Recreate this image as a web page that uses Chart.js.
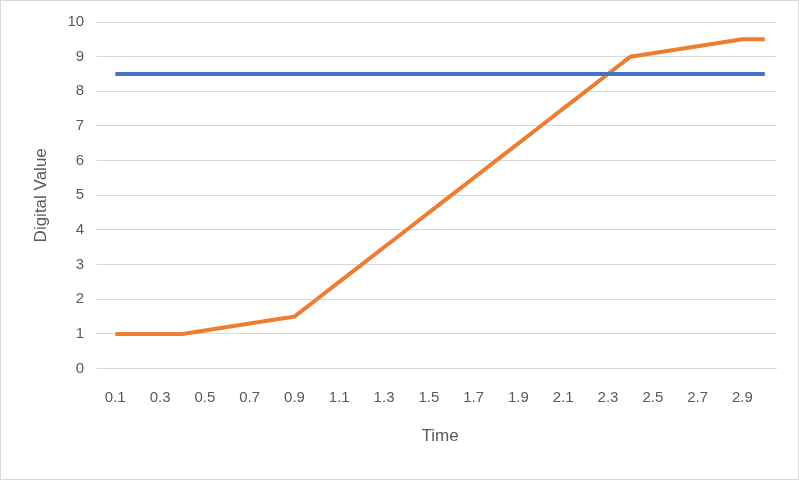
<!DOCTYPE html>
<html><head><meta charset="utf-8">
<script src="https://cdn.jsdelivr.net/npm/chart.js@4/dist/chart.umd.min.js"></script>
<style>html,body{margin:0;padding:0;background:#fff}#w{width:797px;height:478px;border:1px solid #d9d9d9}</style>
</head><body><div id="w"><canvas id="c"></canvas></div>
<script>
const categories = ["0.1","0.2","0.3","0.4","0.5","0.6","0.7","0.8","0.9","1","1.1","1.2","1.3","1.4","1.5","1.6","1.7","1.8","1.9","2","2.1","2.2","2.3","2.4","2.5","2.6","2.7","2.8","2.9","3"];
const threshold = [8.5,8.5,8.5,8.5,8.5,8.5,8.5,8.5,8.5,8.5,8.5,8.5,8.5,8.5,8.5,8.5,8.5,8.5,8.5,8.5,8.5,8.5,8.5,8.5,8.5,8.5,8.5,8.5,8.5,8.5];
const signal = [1,1,1,1,1.1,1.2,1.3,1.4,1.5,2,2.5,3,3.5,4,4.5,5,5.5,6,6.5,7,7.5,8,8.5,9,9.1,9.2,9.3,9.4,9.5,9.5];
const tickLabels = ["0.1","0.3","0.5","0.7","0.9","1.1","1.3","1.5","1.7","1.9","2.1","2.3","2.5","2.7","2.9"];
new Chart(document.getElementById('c'),{type:'line',
data:{labels:categories,datasets:[
{data:threshold,borderColor:'#4472c4',borderWidth:4,pointRadius:0,tension:0},
{data:signal,borderColor:'#ed7d31',borderWidth:4,pointRadius:0,tension:0}]},
options:{responsive:true,maintainAspectRatio:false,animation:false,
layout:{padding:{top:12,right:22,left:26,bottom:28}},
plugins:{legend:{display:false},tooltip:{enabled:false}},
scales:{
x:{offset:true,grid:{display:false},border:{color:'#d9d9d9'},
 ticks:{autoSkip:false,maxRotation:0,padding:12,color:'#595959',font:{family:'Liberation Sans',size:15},
 callback:(v,i)=>i%2===0?tickLabels[i/2]:''},
 title:{display:true,text:'Time',color:'#595959',padding:{top:8},font:{family:'Liberation Sans',size:17}}},
y:{min:0,max:10,ticks:{stepSize:1,color:'#595959',padding:12,font:{family:'Liberation Sans',size:15}},
 grid:{color:'#d9d9d9'},border:{display:false},
 title:{display:true,text:'Digital Value',color:'#595959',font:{family:'Liberation Sans',size:17}}}}}});
</script></body></html>
